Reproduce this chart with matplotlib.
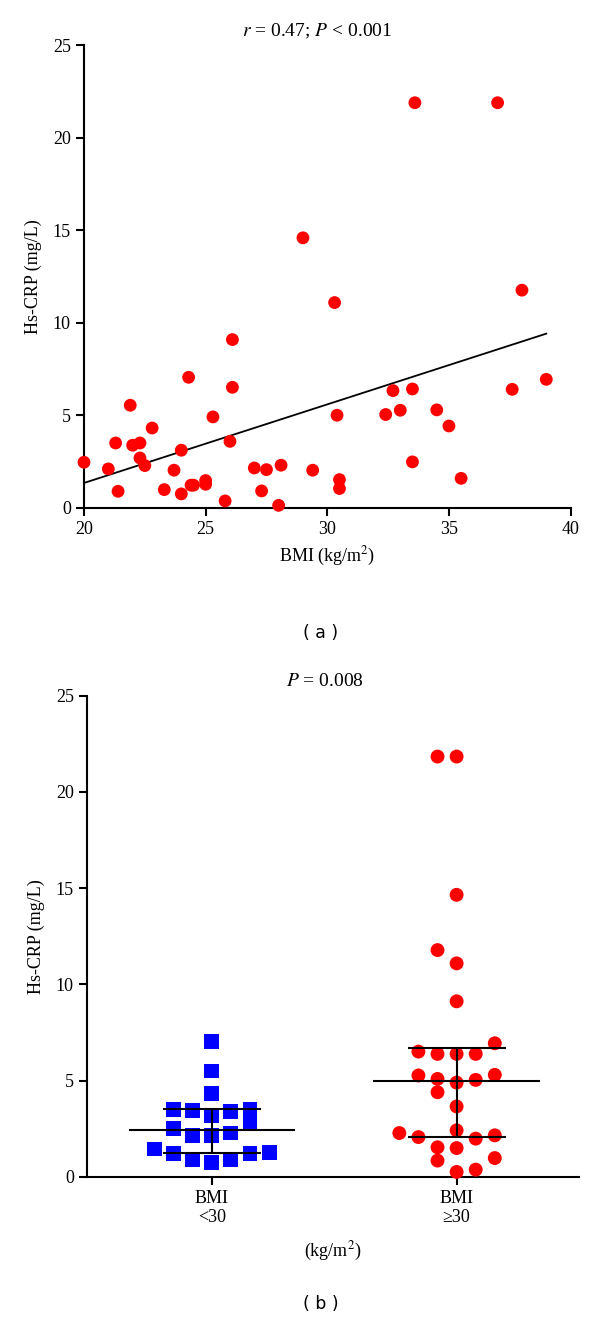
import numpy as np
import matplotlib
matplotlib.use("Agg")
import matplotlib.pyplot as plt

plt.rcParams['font.family'] = ['Liberation Serif', 'DejaVu Serif']
plt.rcParams['mathtext.fontset'] = 'stix'

# panel (a): BMI vs Hs-CRP
bmi = [20.0, 21.0, 21.3, 21.4, 21.9, 22.0, 22.3, 22.3, 22.5, 22.8,
       23.3, 23.7, 24.0, 24.0, 24.3, 24.4, 24.5, 25.0, 25.0, 25.3,
       25.8, 26.0, 26.1, 26.1, 27.0, 27.3, 27.5, 28.0, 28.1, 29.0,
       29.4, 30.3, 30.4, 30.5, 30.5, 32.4, 32.7, 33.0, 33.5, 33.5,
       33.6, 34.5, 35.0, 35.5, 37.0, 37.6, 38.0, 39.0]
crp = [2.47, 2.11, 3.51, 0.90, 5.55, 3.39, 3.51, 2.70, 2.29, 4.32,
       0.99, 2.04, 3.12, 0.76, 7.06, 1.23, 1.23, 1.48, 1.28, 4.92,
       0.38, 3.60, 9.10, 6.52, 2.16, 0.92, 2.07, 0.14, 2.31, 14.6,
       2.04, 11.1, 5.01, 1.53, 1.05, 5.05, 6.34, 5.28, 6.43, 2.49,
       21.9, 5.30, 4.43, 1.60, 21.9, 6.41, 11.77, 6.95]
fit_x = [20, 39]
fit_y = [1.35, 9.42]

# panel (b): groups
low_off = [0, 0, 0, -2, -1, 0, 1, 2, -2, 2, -1, 0, 1, -3, -2, 2, 3, -1, 0, 1]
low_crp = [7.02, 5.50, 4.31, 3.48, 3.43, 3.17, 3.40, 3.48, 2.53, 2.76,
           2.14, 2.14, 2.28, 1.45, 1.21, 1.24, 1.28, 0.90, 0.76, 0.90]
high_off = [-1, 0, 0, -1, 0, 0, 2, -2, -1, 0, 1, -2, 2, -1, 0, 1, -1, 0,
            0, -3, -2, 1, 2, -1, 0, -1, 2, 0, 1]
high_crp = [21.83, 21.83, 14.65, 11.78, 11.09, 9.12, 6.94, 6.51, 6.39, 6.39,
            6.39, 5.27, 5.30, 5.09, 4.90, 5.04, 4.40, 3.66, 2.42, 2.28,
            2.07, 1.99, 2.16, 1.54, 1.50, 0.85, 0.98, 0.26, 0.38]
medians = [2.45, 5.0]
q1 = [1.26, 2.06]
q3 = [3.53, 6.72]
group_labels = ['BMI\n<30', 'BMI\n\u226530']

fs = 13
fig = plt.figure(figsize=(6, 13.19), dpi=100)

# ---- (a)
ax1 = fig.add_axes([0.14, 0.6149, 0.811, 0.3507])
ax1.scatter(bmi, crp, s=85, color='#ff0000', edgecolors='none', zorder=3, clip_on=False)
ax1.plot(fit_x, fit_y, color='black', lw=1.3)
ax1.set_xlim(20, 40)
ax1.set_ylim(0, 25)
ax1.set_xticks([20, 25, 30, 35, 40])
ax1.set_yticks([0, 5, 10, 15, 20, 25])
ax1.set_xlabel('BMI (kg/m$^2$)', fontsize=fs, labelpad=5)
ax1.set_ylabel('Hs-CRP (mg/L)', fontsize=fs, labelpad=8)

# ---- (b)
ax2 = fig.add_axes([0.145, 0.1077, 0.82, 0.365])
step = 0.078
ax2.scatter(np.array(low_off) * step, low_crp, s=115, marker='s', color='#0000ff',
            edgecolors='none', zorder=3)
ax2.scatter(1 + np.array(high_off) * step, high_crp, s=100, color='#ff0000',
            edgecolors='none', zorder=3, clip_on=False)
for i in range(2):
    ax2.hlines(medians[i], i - 0.34, i + 0.34, color='black', lw=1.5, zorder=4)
    ax2.hlines([q1[i], q3[i]], i - 0.2, i + 0.2, color='black', lw=1.5, zorder=4)
    ax2.vlines(i, q1[i], q3[i], color='black', lw=1.5, zorder=4)
ax2.set_xlim(-0.51, 1.5)
ax2.set_ylim(0, 25)
ax2.set_xticks([0, 1])
ax2.set_xticklabels(group_labels, linespacing=1.15)
ax2.set_yticks([0, 5, 10, 15, 20, 25])
ax2.set_xlabel('(kg/m$^2$)', fontsize=fs, labelpad=10)
ax2.set_ylabel('Hs-CRP (mg/L)', fontsize=fs, labelpad=8)

for ax in (ax1, ax2):
    ax.spines['top'].set_visible(False)
    ax.spines['right'].set_visible(False)
    ax.spines['left'].set_linewidth(1.5)
    ax.spines['bottom'].set_linewidth(1.5)
    ax.tick_params(direction='out', length=6, width=1.5, labelsize=fs)

fig.text(0.528, 1 - 31 / 1319, '$r$ = 0.47; $P$ < 0.001', ha='center', va='center', fontsize=14)
fig.text(0.542, 1 - 681 / 1319, '$P$ = 0.008', ha='center', va='center', fontsize=14)
fig.text(0.535, 1 - 633 / 1319, '( a )', ha='center', va='center', fontsize=12.5, family='DejaVu Sans')
fig.text(0.535, 1 - 1304 / 1319, '( b )', ha='center', va='center', fontsize=12.5, family='DejaVu Sans')

fig.savefig('out.png', dpi=100)
